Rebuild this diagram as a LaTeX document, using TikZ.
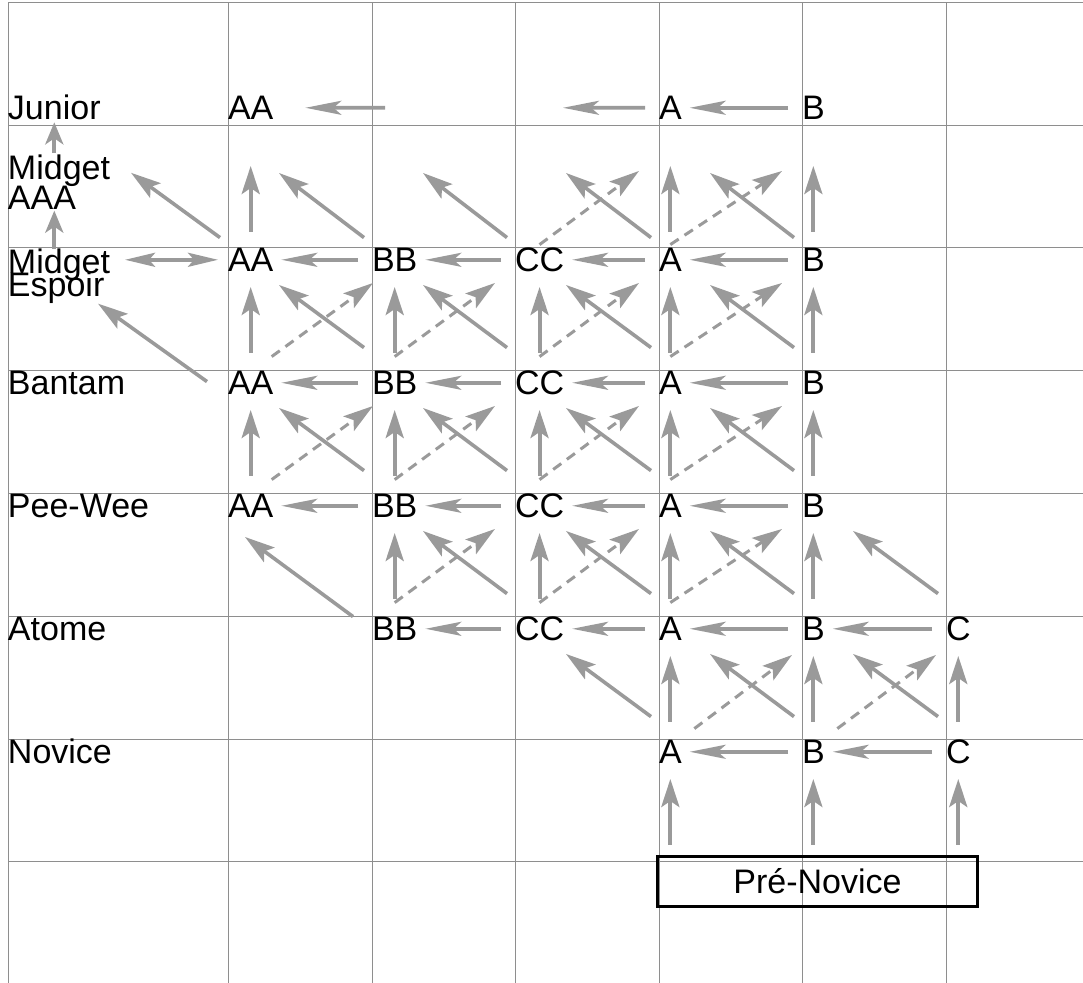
\documentclass[tikz,border=0pt]{standalone}
\usepackage{fontspec}
\setmainfont{Liberation Sans}
\usetikzlibrary{arrows.meta}

\definecolor{gridgray}{HTML}{8E8E8E}
\definecolor{promogray}{HTML}{9A9A9A}

\newcommand\gradefont{\fontsize{17pt}{20pt}\selectfont}
\newcommand\stackfont{\fontsize{17pt}{15pt}\selectfont\lineskiplimit=-20pt}
\newcommand\tightstackfont{\fontsize{17pt}{11.5pt}\selectfont\lineskiplimit=-20pt}

\tikzset{
  gridline/.style={draw=gridgray, line width=0.5pt},
  level/.style={inner sep=0pt, outer sep=0pt, align=left, font=\gradefont},
  grade/.style={inner sep=0pt, outer sep=0pt, anchor=base west, text height=12.2pt, text depth=0pt, font=\gradefont},
  promo/.style={draw=promogray, line width=1.8pt},
  uparrow/.style={promo, line width=2pt, -{Stealth[length=14pt, width=9pt, inset=3pt]}, shorten <=9pt, shorten >=7.5pt},
  shortup/.style={uparrow, -{Stealth[length=11pt, width=9pt, inset=3pt]}},
  leftarrow/.style={promo, -{Stealth[length=18pt, width=7pt, inset=4pt]}, shorten <=7pt, shorten >=4pt},
  bothways/.style={promo, {Stealth[length=15pt, width=7pt, inset=3pt]}-{Stealth[length=15pt, width=7pt, inset=3pt]}, shorten <=5pt, shorten >=7.5pt},
  skewarrow/.style={promo, -{Stealth[length=15pt, width=9pt, inset=3pt]}},
  skewdashed/.style={skewarrow, line width=1.5pt, dash pattern=on 5pt off 3.5pt},
}

\begin{document}
\begin{tikzpicture}[x=0.5pt, y=-0.5pt]
\useasboundingbox (0,0) rectangle (1083,983);
% grid
\foreach \y in {3,126,248,371,494,617,740,862} \draw[gridline] (8,\y) -- (1083,\y);
\foreach \x in {8,228,372,515,659,802,946} \draw[gridline] (\x,3) -- (\x,983);

% age levels
\node[level, anchor=base west] (jun) at (8,120) {Junior};
\node[level, anchor=north west, font=\stackfont] (aaa) at (8,155) {Midget\\AAA};
\node[level, anchor=north west, font=\tightstackfont] (esp) at (8,249) {Midget\\Espoir};
\node[level, anchor=base west] (ban) at (8,395) {Bantam};
\node[level, anchor=base west] (pee) at (8,518) {Pee-Wee};
\node[level, anchor=base west] (ato) at (8,641) {Atome};
\node[level, anchor=base west] (nov) at (8,764) {Novice};

% grades
\foreach \c/\x in {AA/228, A/659, B/802} \node[grade] (jun-\c) at (\x,120) {\c};
\foreach \r/\y in {esp/272, ban/395, pee/518}
  \foreach \c/\x in {AA/228, BB/372, CC/515, A/659, B/802} \node[grade] (\r-\c) at (\x,\y) {\c};
\foreach \c/\x in {BB/372, CC/515, A/659, B/802, C/946} \node[grade] (ato-\c) at (\x,641) {\c};
\foreach \c/\x in {A/659, B/802, C/946} \node[grade] (nov-\c) at (\x,764) {\c};
\node[draw, line width=1.5pt, minimum width=160pt, minimum height=25pt, font=\gradefont] (pre) at (817.5,881.5) {Pré-Novice};

% within a level
\foreach \r in {esp, ban, pee}
  \foreach \a/\b in {BB/AA, CC/BB, A/CC, B/A} \draw[leftarrow] (\r-\a) -- (\r-\b);
\foreach \a/\b in {CC/BB, A/CC, B/A, C/B} \draw[leftarrow] (ato-\a) -- (ato-\b);
\foreach \a/\b in {B/A, C/B} \draw[leftarrow] (nov-\a) -- (nov-\b);
\draw[leftarrow] (jun-B) -- (jun-A);
\coordinate (jun-gapL) at (385,107.8);
\coordinate (jun-gapR) at (563,107.8);
\draw[leftarrow, shorten <=0pt, shorten >=16pt] (jun-gapL) -- (jun-AA);
\draw[leftarrow, shorten >=0pt] (jun-A) -- (jun-gapR);

% straight up
\foreach \lo/\up in {ban/esp, pee/ban}
  \foreach \c in {AA,BB,CC,A,B} \draw[uparrow] (\lo-\c) -- (\up-\c);
\foreach \c in {BB,CC,A,B} \draw[uparrow] (ato-\c) -- (pee-\c);
\foreach \c in {A,B,C} \draw[uparrow] (nov-\c) -- (ato-\c);
\foreach \c in {A,B,C} \draw[uparrow, shorten <=5pt] (pre.north -| nov-\c) -- (nov-\c);

% Midget Espoir -> Midget AAA
\foreach \c/\x in {AA/228, BB/372, CC/515, A/659, B/802} \coordinate (mid-\c) at (\x,166);
\foreach \c in {AA,A,B} \draw[uparrow, shorten <=8pt, shorten >=0pt] (esp-\c) -- (esp-\c |- mid-\c);
\foreach \l/\u in {BB/AA, CC/BB, A/CC, B/A}
  \draw[skewarrow] ([shift={(-8,-10)}]esp-\l.north west) -- ([shift={(51,7)}]mid-\u);
\foreach \l/\u in {CC/A, A/B}
  \draw[skewdashed] ([shift={(0,-3)}]esp-\l.north) -- ([shift={(-20,5)}]mid-\u);
\draw[skewarrow] ([shift={(-8,-10)}]esp-AA.north west) -- ([shift={(21,-9.5)}]aaa.east);

% diagonals between levels
\foreach \lo/\up in {ban/esp, pee/ban} {
  \foreach \l/\u in {BB/AA, CC/BB, A/CC, B/A}
    \draw[skewarrow] ([shift={(-8,-23)}]\lo-\l.north west) -- ([shift={(51,13)}]\up-\u.south west);
  \foreach \l/\u/\d in {AA/BB/21, BB/CC/0, CC/A/0, A/B/0}
    \draw[skewdashed] ([shift={(\d,-14)}]\lo-\l.north) -- ([shift={(\d-20,11)}]\up-\u.south west);
}
\foreach \l/\u in {CC/BB, A/CC, B/A, C/B}
  \draw[skewarrow] ([shift={(-8,-23)}]ato-\l.north west) -- ([shift={(51,13)}]pee-\u.south west);
\draw[skewarrow] ([shift={(-19,0)}]ato-BB.north west) -- ([shift={(17,19)}]pee-AA.south west);
\foreach \l/\u in {BB/CC, CC/A, A/B}
  \draw[skewdashed] ([shift={(0,-14)}]ato-\l.north) -- ([shift={(-20,11)}]pee-\u.south west);
\foreach \l/\u in {A/CC, B/A, C/B}
  \draw[skewarrow] ([shift={(-8,-23)}]nov-\l.north west) -- ([shift={(51,13)}]ato-\u.south west);
\foreach \l/\u in {A/B, B/C}
  \draw[skewdashed] ([shift={(24,-11)}]nov-\l.north) -- ([shift={(-10,14)}]ato-\u.south west);

% left column
\draw[shortup, shorten <=1pt, shorten >=1pt] (aaa.north -| jun) -- (jun);
\draw[shortup, shorten <=0pt, shorten >=0.5pt] (esp.north -| jun) -- (aaa.south -| jun);
\draw[bothways] (esp-AA) -- (esp-AA -| esp.east);
\draw[skewarrow] ([shift={(-21,11)}]ban-AA.north west) -- ([shift={(-12,0)}]esp.south east);
\end{tikzpicture}
\end{document}
